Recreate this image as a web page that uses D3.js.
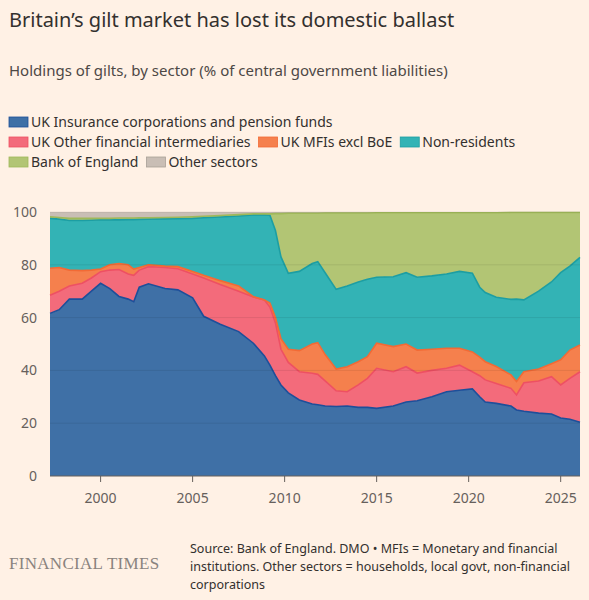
<!DOCTYPE html>
<html><head><meta charset="utf-8">
<script src="https://cdn.jsdelivr.net/npm/d3@7"></script>
<style>
body{margin:0;background:#fff1e5;font-family:"Noto Sans",sans-serif;}
</style></head><body>
<svg id="chart" width="589" height="600"></svg>
<script>
// Dates (decimal years) and cumulative top of each sector, % of liabilities
const dates = [1997.25,1997.75,1998.3,1999,1999.5,2000,2000.5,2001,2001.5,2001.8,2002.1,2002.6,2003.5,2004.2,2005,2005.6,2006.5,2007.5,2008.3,2008.9,2009.2,2009.5,2009.8,2010.2,2010.8,2011.5,2011.8,2012.2,2012.8,2013.4,2014,2014.5,2015,2015.9,2016.6,2017.2,2018,2018.8,2019.5,2020.2,2020.6,2020.9,2021.5,2022.3,2022.6,2023,2023.8,2024.5,2025,2025.5,2026.05];
const insuranceTop = [61.6,63,67,67,70,73,71,68,67,66,71.5,72.8,71,70.5,67.5,60.5,57.5,54.7,50.3,45.5,42,38,34.5,31.5,28.8,27.3,27,26.5,26.3,26.5,26,26,25.6,26.5,28,28.5,30,31.9,32.5,33,30,28,27.5,26.5,25,24.5,23.8,23.5,22,21.5,20.4];
const otherFinTop = [68.5,70,72,73,75,77.4,78,78.2,76.5,76,78,79.3,79,78.5,76.5,75,72.5,70,67.8,66.7,64,58,48,43,39.5,38.9,38.5,36,32.3,31.9,34.5,37,40.8,39.5,41.4,39,40,40.8,42,39.5,38,36.4,35,33.2,30.7,35.3,36,37.6,34.5,37,39.5];
const mfiTop = [78.7,79,78,77.8,78,78.4,80,80.5,80,78.4,79,80,79.5,79.3,77.5,76,74,72,67.9,66.7,65.5,60,52,48,47.5,50,50.5,46,40.5,41.4,43.3,45.2,50.3,49,50,47.7,48,48.4,48.4,47,45,43.3,41.5,38.3,35.8,39.5,40.5,42.5,44,47.7,49.6];
const nonResTop = [97.6,97.3,96.8,96.8,96.9,97,97,97,97.1,97.1,97.2,97.3,97.4,97.5,97.6,97.8,98.1,98.5,98.9,98.9,98.8,93,83,76.8,77.5,80.5,81.2,77,70.7,72,73.5,74.5,75.3,75.5,77,75.3,75.8,76.5,77.5,76.8,71.5,69.5,67.7,66.9,67,66.7,70,73.5,77,79.5,82.8];
const boeTop = [98.2,97.9,97.6,97.6,97.6,97.6,97.6,97.7,97.7,97.7,97.8,97.8,97.9,98,98.2,98.4,98.7,99,99.3,99.3,99.3,99.4,99.4,99.5,99.5,99.5,99.5,99.6,99.6,99.6,99.6,99.6,99.7,99.7,99.7,99.7,99.7,99.7,99.7,99.7,99.7,99.7,99.7,99.8,99.8,99.8,99.8,99.8,99.8,99.8,99.8];
const otherTop = dates.map(() => 100);

const seriesNames = ["UK Insurance corporations and pension funds","UK Other financial intermediaries","UK MFIs excl BoE","Non-residents","Bank of England","Other sectors"];
const fills = ["#3f70a6","#f36b7b","#f5804d","#33b3b5","#b2c574","#c9beb5"];
const strokes = ["#1d4f9a","#ee5063","#f26a35","#1c9ea3","#9fb85a","#c9beb5"];
const tops = [insuranceTop, otherFinTop, mfiTop, nonResTop, boeTop, otherTop];
const yTicks = [0,20,40,60,80,100];
const xTicks = [2000,2005,2010,2015,2020,2025];

const svg = d3.select("#chart");
const margin = {left: 50, right: 9, top: 212, bottom: 124};
const x = d3.scaleLinear().domain([1997.25, 2026.05]).range([margin.left, 589 - margin.right]);
const y = d3.scaleLinear().domain([0, 100]).range([476, margin.top]);

// Titles
svg.append("text").attr("x", 9).attr("y", 27).style("font-size", "20px").attr("fill", "#33302e")
    .text("Britain’s gilt market has lost its domestic ballast");
svg.append("text").attr("x", 9).attr("y", 76).style("font-size", "15px").attr("fill", "#4d4845")
    .text("Holdings of gilts, by sector (% of central government liabilities)");

// Legend
const legendRows = [[0],[1,2,3],[4,5]];
legendRows.forEach((row, r) => {
    let lx = 9;
    row.forEach(i => {
        const g = svg.append("g").attr("transform", `translate(${lx},${117 + r * 20})`);
        g.append("rect").attr("width", 19).attr("height", 10).attr("fill", fills[i]).attr("stroke", strokes[i] === fills[i] ? "#a9a097" : strokes[i]).attr("stroke-width", 0.8);
        const t = g.append("text").attr("x", 22).attr("y", 10).style("font-size", "14px").attr("fill", "#33302e").text(seriesNames[i]);
        lx += 22 + t.node().getComputedTextLength() + 8;
    });
});

// Areas
const idx = d3.range(dates.length);
tops.forEach((top, s) => {
    const below = s === 0 ? dates.map(() => 0) : tops[s - 1];
    svg.append("path").datum(idx).attr("fill", fills[s])
        .attr("d", d3.area().x(i => x(dates[i])).y0(i => y(below[i])).y1(i => y(top[i])));
});
tops.slice(0, 5).forEach((top, s) => {
    svg.append("path").datum(idx).attr("fill", "none").attr("stroke", strokes[s]).attr("stroke-width", 1.6)
        .attr("d", d3.line().x(i => x(dates[i])).y(i => y(top[i])));
});

// Gridlines
svg.append("g").selectAll("line").data(yTicks.slice(1)).join("line")
    .attr("x1", x.range()[0]).attr("x2", x.range()[1])
    .attr("y1", d => y(d)).attr("y2", d => y(d))
    .attr("stroke", "#000").attr("stroke-opacity", 0.08);

// Y axis labels
svg.append("g").selectAll("text").data(yTicks).join("text")
    .attr("x", 37).attr("y", d => y(d) + 5).attr("text-anchor", "end")
    .style("font-size", "14px").attr("fill", "#66605c").text(d => d);

// X axis
svg.append("line").attr("x1", x.range()[0]).attr("x2", x.range()[1]).attr("y1", 476).attr("y2", 476).attr("stroke", "#66605c");
const xa = svg.append("g").selectAll("g").data(xTicks).join("g").attr("transform", d => `translate(${x(d)},476)`);
xa.append("line").attr("y2", 6).attr("stroke", "#66605c");
xa.append("text").attr("y", 27).attr("text-anchor", "middle").style("font-size", "14px").attr("fill", "#66605c").text(d => d);

// Footer
svg.append("text").attr("x", 9).attr("y", 569).style("font-family", "'Liberation Serif',serif").style("font-size", "17px")
    .attr("fill", "#8a837e").attr("letter-spacing", "0.3").text("FINANCIAL TIMES");
const src = ["Source: Bank of England. DMO • MFIs = Monetary and financial", "institutions. Other sectors = households, local govt, non-financial", "corporations"];
svg.append("g").selectAll("text").data(src).join("text")
    .attr("x", 190).attr("y", (d, i) => 553 + i * 18).style("font-size", "12.5px").attr("fill", "#33302e").text(d => d);
</script>
</body></html>
